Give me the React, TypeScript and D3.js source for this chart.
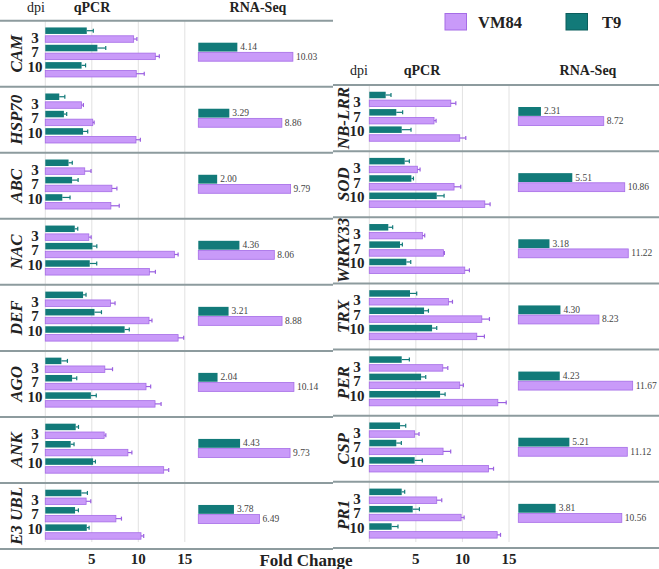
import React from "react";
import * as d3 from "d3";

const dpiLabels = ["3", "7", "10"];
const seriesNames = ["T9", "VM84"];
const tickValues = [5, 10, 15];

const leftGenes = ["CAM", "HSP70", "ABC", "NAC", "DEF", "AGO", "ANK", "E3 UBL"];
const leftQpcrT9 = [
  [4.46, 5.6, 3.9], [1.5, 2.0, 4.06], [2.5, 2.88, 1.83], [3.17, 5.07, 4.78],
  [4.06, 5.29, 8.53], [1.73, 2.88, 4.9], [3.27, 2.73, 5.14], [3.88, 3.2, 4.46],
];
const leftQpcrT9Err = [
  [0.7, 0.9, 0.43], [0.6, 0.3, 0.5], [0.4, 0.65, 0.83], [0.32, 0.47, 0.75],
  [0.32, 0.75, 0.5], [0.65, 0.5, 0.58], [0.3, 0.36, 0.25], [0.65, 0.36, 0.25],
];
const leftQpcrVM = [
  [9.5, 11.83, 9.78], [3.9, 5.1, 9.75], [4.24, 7.16, 7.05], [4.68, 13.88, 11.19],
  [7.0, 11.15, 14.28], [6.4, 10.83, 11.8], [6.33, 8.88, 12.73], [4.39, 7.59, 10.29],
];
const leftQpcrVMErr = [
  [0.35, 0.43, 0.86], [0.2, 0.15, 0.47], [0.68, 0.54, 0.9], [0.25, 0.4, 0.65],
  [0.5, 0.32, 0.6], [0.83, 0.5, 0.65], [0.18, 0.43, 0.54], [0.5, 0.6, 0.29],
];
const leftRnaT9 = [4.14, 3.29, 2.0, 4.36, 3.21, 2.04, 4.43, 3.78];
const leftRnaVM = [10.03, 8.86, 9.79, 8.06, 8.88, 10.14, 9.73, 6.49];

const rightGenes = ["NB-LRR", "SOD", "WRKY33", "TRX", "PER", "CSP", "PR1"];
const rightQpcrT9 = [
  [1.76, 2.9, 3.48], [3.8, 4.52, 7.24], [2.04, 3.3, 3.98], [4.37, 5.88, 6.74],
  [3.48, 5.56, 7.6], [3.3, 2.9, 4.87], [3.48, 4.66, 2.4],
];
const rightQpcrT9Err = [
  [0.57, 0.68, 1.0], [0.5, 0.22, 0.79], [0.47, 0.25, 0.47], [0.72, 0.47, 0.5],
  [0.82, 0.5, 0.54], [0.61, 0.54, 0.82], [0.32, 0.72, 0.68],
];
const rightQpcrVM = [
  [8.75, 6.95, 9.71], [5.16, 9.1, 12.4], [5.7, 7.96, 10.25], [8.5, 12.08, 11.54],
  [7.89, 9.71, 13.8], [4.87, 7.92, 12.8], [7.24, 9.86, 13.73],
];
const rightQpcrVMErr = [
  [0.54, 0.22, 0.65], [0.29, 0.72, 0.57], [0.25, 0.1, 0.5], [0.43, 0.82, 0.82],
  [0.54, 0.39, 0.9], [0.47, 0.82, 0.54], [0.54, 0.32, 0.36],
];
const rightRnaT9 = [2.31, 5.51, 3.18, 4.3, 4.23, 5.21, 3.81];
const rightRnaVM = [8.72, 10.86, 11.22, 8.23, 11.67, 11.12, 10.56];

const T9_COLOR = "#127a79";
const VM_FILL = "#c99af9";
const VM_STROKE = "#a56ce6";
const SEP_COLOR = "#8d9b9e";
const GRID_COLOR = "#e2e2e2";
const FONT = "Liberation Serif, DejaVu Serif, Times New Roman, serif";

type PanelProps = {
  genes: string[];
  qT9: number[][];
  qT9e: number[][];
  qVM: number[][];
  qVMe: number[][];
  rT9: number[];
  rVM: number[];
  yRange: [number, number];
  qRange: [number, number];
  rRange: [number, number];
  labelX: number;
  dpiX: number;
  lineX: [number, number];
  gridBottom: number;
};

function Panel(p: PanelProps) {
  const yBlock = d3.scaleBand<string>().domain(p.genes).range(p.yRange).padding(0);
  const step = yBlock.step();
  const xq = d3.scaleLinear().domain([0, 15]).range(p.qRange);
  const xr = d3.scaleLinear().domain([0, 10]).range(p.rRange);
  const yDpi = d3.scaleBand<string>().domain(dpiLabels).range([5.5, 57.5]);
  const ySer = d3.scaleBand<string>().domain(seriesNames).range([0, yDpi.bandwidth()]).paddingInner(0.22).paddingOuter(0.15);
  const yRna = d3.scaleBand<string>().domain(seriesNames).range([22, 40.5]).paddingInner(0.08);
  const yLab = d3.scalePoint<string>().domain(dpiLabels).range([17, 46]);

  const errBar = (x0: number, x1: number, y: number, color: string, key: string) => (
    <g key={key} stroke={color} strokeWidth={1.2}>
      <line x1={x0} x2={x1} y1={y} y2={y} />
      <line x1={x1} x2={x1} y1={y - 2} y2={y + 2} />
    </g>
  );

  return (
    <g>
      {[0, ...tickValues].map((t) => (
        <line key={"g" + t} x1={xq(t)} x2={xq(t)} y1={p.yRange[0]} y2={p.gridBottom} stroke={GRID_COLOR} strokeWidth={1} />
      ))}
      {p.genes.map((g, gi) => {
        const top = yBlock(g)!;
        return (
          <g key={g}>
            <text
              transform={`translate(${p.labelX},${top + step / 2}) rotate(-90)`}
              textAnchor="middle"
              dominantBaseline="central"
              fontFamily={FONT}
              fontStyle="italic"
              fontWeight="bold"
              fontSize={17}
              fill="#222"
            >
              {g}
            </text>
            {dpiLabels.map((d, di) => {
              const gy = top + yDpi(d)!;
              const yT = gy + ySer("T9")!;
              const yV = gy + ySer("VM84")!;
              const bw = ySer.bandwidth();
              const vT = p.qT9[gi][di];
              const vV = p.qVM[gi][di];
              return (
                <g key={d}>
                  <text x={p.dpiX} y={top + yLab(d)!} textAnchor="middle" dominantBaseline="central" fontFamily={FONT} fontWeight="bold" fontSize={15} fill="#222">
                    {d}
                  </text>
                  <rect x={xq(0)} y={yT} width={xq(vT) - xq(0)} height={bw} fill={T9_COLOR} />
                  {errBar(xq(vT), xq(vT + p.qT9e[gi][di]), yT + bw / 2, T9_COLOR, "et")}
                  <rect x={xq(0)} y={yV} width={xq(vV) - xq(0)} height={bw} fill={VM_FILL} stroke={VM_STROKE} strokeWidth={0.8} />
                  {errBar(xq(vV), xq(vV + p.qVMe[gi][di]), yV + bw / 2, "#9a5fe0", "ev")}
                </g>
              );
            })}
            {seriesNames.map((s) => {
              const v = s === "T9" ? p.rT9[gi] : p.rVM[gi];
              const y = top + yRna(s)!;
              const bw = yRna.bandwidth();
              return (
                <g key={s}>
                  <rect
                    x={xr(0)}
                    y={y}
                    width={xr(v) - xr(0)}
                    height={bw}
                    fill={s === "T9" ? T9_COLOR : VM_FILL}
                    stroke={s === "T9" ? "none" : VM_STROKE}
                    strokeWidth={0.8}
                  />
                  <text x={xr(v) + 3} y={y + bw / 2} dominantBaseline="central" fontFamily={FONT} fontSize={9.5} fill="#444">
                    {v.toFixed(2)}
                  </text>
                </g>
              );
            })}
            <line x1={p.lineX[0]} x2={p.lineX[1]} y1={top + step} y2={top + step} stroke={SEP_COLOR} strokeWidth={2} />
          </g>
        );
      })}
      <line x1={p.lineX[0]} x2={p.lineX[1]} y1={p.yRange[0]} y2={p.yRange[0]} stroke={SEP_COLOR} strokeWidth={2} />
      {tickValues.map((t) => (
        <text key={"t" + t} x={xq(t)} y={564} textAnchor="middle" fontFamily={FONT} fontWeight="bold" fontSize={15} fill="#222">
          {t}
        </text>
      ))}
    </g>
  );
}

export default function App() {
  const W = 659;
  const H = 569;
  return (
    <svg width={W} height={H} style={{ position: "absolute", left: 0, top: 0, background: "#fff" }}>
      <rect width={W} height={H} fill="#fff" />
      <text x={36} y={12} textAnchor="middle" fontFamily={FONT} fontSize={14} fill="#222">dpi</text>
      <text x={92} y={12} textAnchor="middle" fontFamily={FONT} fontWeight="bold" fontSize={14} fill="#222">qPCR</text>
      <text x={258} y={12} textAnchor="middle" fontFamily={FONT} fontWeight="bold" fontSize={14} fill="#222">RNA-Seq</text>
      <text x={359} y={75} textAnchor="middle" fontFamily={FONT} fontSize={14} fill="#222">dpi</text>
      <text x={422} y={75} textAnchor="middle" fontFamily={FONT} fontWeight="bold" fontSize={14} fill="#222">qPCR</text>
      <text x={588} y={75} textAnchor="middle" fontFamily={FONT} fontWeight="bold" fontSize={14} fill="#222">RNA-Seq</text>
      <rect x={445} y={13.5} width={21.5} height={16.5} fill={VM_FILL} stroke={VM_STROKE} strokeWidth={1} />
      <text x={478} y={27.5} fontFamily={FONT} fontWeight="bold" fontSize={16.5} fill="#222">VM84</text>
      <rect x={566} y={13.5} width={21.5} height={16.5} fill={T9_COLOR} stroke="#0b5e5d" strokeWidth={1} />
      <text x={602} y={27.5} fontFamily={FONT} fontWeight="bold" fontSize={16.5} fill="#222">T9</text>

      <Panel
        genes={leftGenes}
        qT9={leftQpcrT9}
        qT9e={leftQpcrT9Err}
        qVM={leftQpcrVM}
        qVMe={leftQpcrVMErr}
        rT9={leftRnaT9}
        rVM={leftRnaVM}
        yRange={[20.7, 549]}
        qRange={[45.3, 184.8]}
        rRange={[198.3, 292.6]}
        labelX={16}
        dpiX={35}
        lineX={[0, 333]}
        gridBottom={542}
      />
      <Panel
        genes={rightGenes}
        qT9={rightQpcrT9}
        qT9e={rightQpcrT9Err}
        qVM={rightQpcrVM}
        qVMe={rightQpcrVMErr}
        rT9={rightRnaT9}
        rVM={rightRnaVM}
        yRange={[85, 548]}
        qRange={[369.3, 509]}
        rRange={[518.3, 616.3]}
        labelX={343}
        dpiX={357}
        lineX={[333, 659]}
        gridBottom={542}
      />
      <text x={306} y={566} textAnchor="middle" fontFamily={FONT} fontWeight="bold" fontSize={17} fill="#222">Fold Change</text>
    </svg>
  );
}
